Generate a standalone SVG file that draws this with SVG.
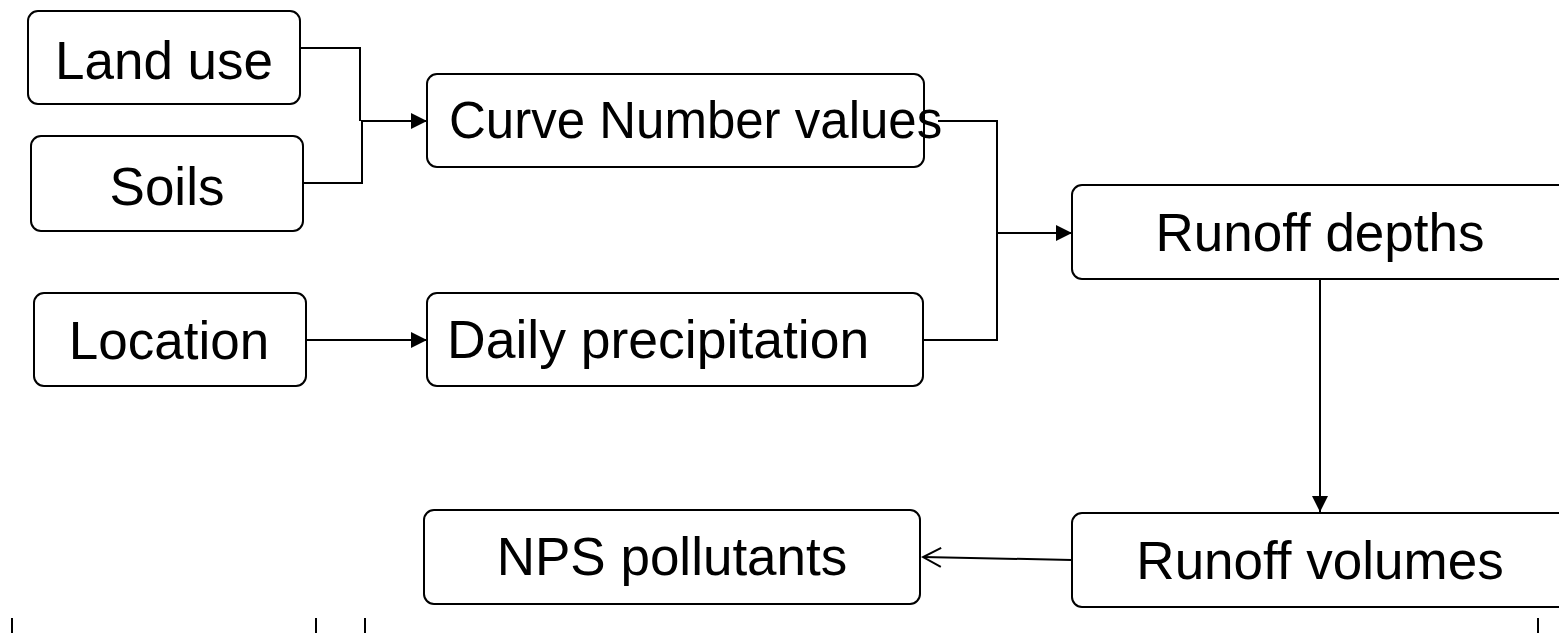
<svg xmlns="http://www.w3.org/2000/svg" width="1559" height="633" viewBox="0 0 1559 633">
<style>
.box{fill:#fff;stroke:#000;stroke-width:2}
.lbl{font-family:"Liberation Sans",Arial,sans-serif;font-size:53px;fill:#000}
.c{text-anchor:middle}
.ln{fill:none;stroke:#000;stroke-width:2}
.tick{stroke:#000;stroke-width:2}
</style>
<defs>
<marker id="tri" markerUnits="userSpaceOnUse" markerWidth="16" markerHeight="16" refX="16" refY="8" orient="auto">
<path d="M0,0 L16,8 L0,16 Z" fill="#000"/>
</marker>
<marker id="open" markerUnits="userSpaceOnUse" markerWidth="22" markerHeight="22" refX="20" refY="11" orient="auto">
<path d="M2,1.5 L20,11 L2,20.5" fill="none" stroke="#000" stroke-width="2"/>
</marker>
</defs>
<g id="connectors">
<path class="ln" d="M300,48 H360 V121"/>
<path class="ln" d="M303,183 H362 V121"/>
<path class="ln" d="M361,121 H427" marker-end="url(#tri)"/>
<path class="ln" d="M938,121 H997 V340 H923"/>
<path class="ln" d="M997,233 H1072" marker-end="url(#tri)"/>
<path class="ln" d="M306,340 H427" marker-end="url(#tri)"/>
<path class="ln" d="M1320,279 V512" marker-end="url(#tri)"/>
<path class="ln" d="M1072,560 L923,557" marker-end="url(#open)"/>
</g>
<g id="land-use"><rect class="box" x="28" y="11" width="272" height="93" rx="10"/><text class="lbl c" x="164" y="79">Land use</text></g>
<g id="soils"><rect class="box" x="31" y="136" width="272" height="95" rx="10"/><text class="lbl c" x="167" y="205">Soils</text></g>
<g id="location"><rect class="box" x="34" y="293" width="272" height="93" rx="10"/><text class="lbl c" x="169" y="359">Location</text></g>
<g id="curve-number"><rect class="box" x="427" y="74" width="497" height="93" rx="10"/><text class="lbl" x="449" y="138" style="font-size:51px">Curve Number values</text></g>
<g id="daily-precip"><rect class="box" x="427" y="293" width="496" height="93" rx="10"/><text class="lbl" x="447" y="358" style="font-size:53.5px">Daily precipitation</text></g>
<g id="runoff-depths"><rect class="box" x="1072" y="185" width="496" height="94" rx="10"/><text class="lbl c" x="1320" y="251">Runoff depths</text></g>
<g id="runoff-volumes"><rect class="box" x="1072" y="513" width="496" height="94" rx="10"/><text class="lbl c" x="1320" y="579">Runoff volumes</text></g>
<g id="nps"><rect class="box" x="424" y="510" width="496" height="94" rx="10"/><text class="lbl c" x="672" y="575">NPS pollutants</text></g>
<g id="ticks">
<line class="tick" x1="12" y1="618" x2="12" y2="633"/>
<line class="tick" x1="316" y1="618" x2="316" y2="633"/>
<line class="tick" x1="365" y1="618" x2="365" y2="633"/>
<line class="tick" x1="1538" y1="618" x2="1538" y2="633"/>
</g>
</svg>
